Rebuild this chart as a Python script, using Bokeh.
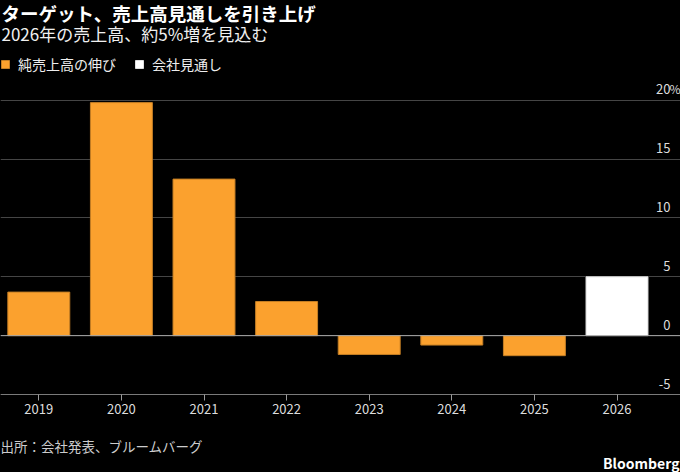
from bokeh.plotting import figure
from bokeh.models import (ColumnDataSource, FixedTicker, Grid, Span, Label, LabelSet,
                          Legend, LegendItem, NumeralTickFormatter, Range1d)
from bokeh.core.properties import value
from bokeh.embed import file_html
from bokeh.resources import INLINE

# ---- data ----
years_actual = [2019, 2020, 2021, 2022, 2023, 2024, 2025]
sales_growth = [3.7, 19.8, 13.3, 2.9, -1.6, -0.8, -1.7]
years_forecast = [2026]
forecast_growth = [5.0]
all_years = years_actual + years_forecast
y_ticks = [-5, 0, 5, 10, 15, 20]
y_tick_labels = ["-5", "0", "5", "10", "15", "20"]
y_unit = "%"

title_text = "ターゲット、売上高見通しを引き上げ"
subtitle_text = "2026年の売上高、約5%増を見込む"
legend_actual = "純売上高の伸び"
legend_forecast = "会社見通し"
source_text = "出所：会社発表、ブルームバーグ"
brand_text = "Bloomberg"

ORANGE = "#FBA12E"
JP = "Noto Sans CJK JP"

W, H = 680, 472
AXIS_Y = 394                  # canvas y of the -5 baseline in the reference
PX_PER_UNIT = 11.77
Y_MIN = y_ticks[0] - (H - AXIS_Y) / PX_PER_UNIT
Y_MAX = y_ticks[0] + AXIS_Y / PX_PER_UNIT
GRID_RIGHT = 670

p = figure(width=W, height=H, output_backend="svg", toolbar_location=None,
           x_range=Range1d(2019 - 38.3 / 82.6, 2019 + (W - 38.3) / 82.6),
           y_range=Range1d(Y_MIN, Y_MAX),
           y_axis_location=None, min_border_left=0, min_border_right=0,
           min_border_top=0, min_border_bottom=0)
p.background_fill_color = "black"
p.border_fill_color = "black"
p.outline_line_color = None
for g in list(p.xgrid) + list(p.ygrid):
    g.visible = False

ygrid = Grid(dimension=1, ticker=FixedTicker(ticks=y_ticks),
             grid_line_color="#454545", grid_line_width=1)
p.add_layout(ygrid)

src_a = ColumnDataSource(dict(x=years_actual, top=sales_growth))
src_f = ColumnDataSource(dict(x=years_forecast, top=forecast_growth))
r_a = p.vbar(x="x", top="top", bottom=0, width=0.75, source=src_a,
             fill_color=ORANGE, line_color="#C47E24", line_width=1)
r_f = p.vbar(x="x", top="top", bottom=0, width=0.75, source=src_f,
             fill_color="white", line_color="#dddddd", line_width=1)

p.add_layout(Span(location=0, dimension="width", line_color="#a8a8a8", line_width=1))

# x axis drawn at y = -5 inside the frame
ax = p.xaxis[0]
ax.fixed_location = y_ticks[0]
ax.ticker = FixedTicker(ticks=all_years)
ax.formatter = NumeralTickFormatter(format="0")
ax.axis_line_color = "#7a7a7a"
ax.major_tick_line_color = "#9a9a9a"
ax.major_tick_in = 0
ax.major_tick_out = 6
ax.minor_tick_line_color = None
ax.major_label_text_color = "#dddddd"
ax.major_label_text_font = JP
ax.major_label_text_font_size = "13px"
ax.major_label_standoff = 3

# y tick labels above grid lines
lab_src = ColumnDataSource(dict(y=y_ticks, text=y_tick_labels,
                                x=[GRID_RIGHT] * len(y_ticks)))
p.add_layout(LabelSet(x="x", y="y", text="text", source=lab_src, x_units="screen",
                      y_offset=6, text_align="right", text_baseline="alphabetic",
                      text_color="#dddddd", text_font=value(JP),
                      text_font_size="13px"))
unit_src = ColumnDataSource(dict(y=[y_ticks[-1]], text=[y_unit], x=[GRID_RIGHT - 1]))
p.add_layout(LabelSet(x="x", y="y", text="text", source=unit_src, x_units="screen",
                      y_offset=6, text_align="left", text_baseline="alphabetic",
                      text_color="#dddddd", text_font=value(JP),
                      text_font_size="12px"))

def screen_y(canvas_y):
    return H - canvas_y

p.add_layout(Label(x=1, y=screen_y(12.5), x_units="screen", y_units="screen",
                   text=title_text, text_baseline="middle", text_color="white",
                   text_font=JP, text_font_size="18.5px", text_font_style="bold"))
p.add_layout(Label(x=1, y=screen_y(33), x_units="screen", y_units="screen",
                   text=subtitle_text, text_baseline="middle", text_color="#f0f0f0",
                   text_font=JP, text_font_size="17px"))
p.add_layout(Label(x=0, y=screen_y(445), x_units="screen", y_units="screen",
                   text=source_text, text_baseline="middle", text_color="#cccccd",
                   text_font=JP, text_font_size="13.5px"))
p.add_layout(Label(x=W - 1, y=screen_y(462), x_units="screen", y_units="screen",
                   text=brand_text, text_align="right", text_baseline="middle",
                   text_color="white", text_font=JP, text_font_size="14px",
                   text_font_style="bold"))

legend = Legend(items=[LegendItem(label=legend_actual, renderers=[r_a]),
                       LegendItem(label=legend_forecast, renderers=[r_f])],
                orientation="horizontal", location=(0, screen_y(73.5)),
                glyph_width=10, glyph_height=10, label_standoff=8, spacing=18,
                padding=0, margin=0, border_line_color=None,
                background_fill_alpha=0, label_text_color="#eeeeee",
                label_text_font=JP, label_text_font_size="14px", label_height=20)
p.add_layout(legend)

html = file_html(p, INLINE)
html = html.replace("</head>", "<style>html,body{margin:0;padding:0;background:#000;overflow:hidden;}</style></head>", 1)
open("out.html", "w").write(html)
